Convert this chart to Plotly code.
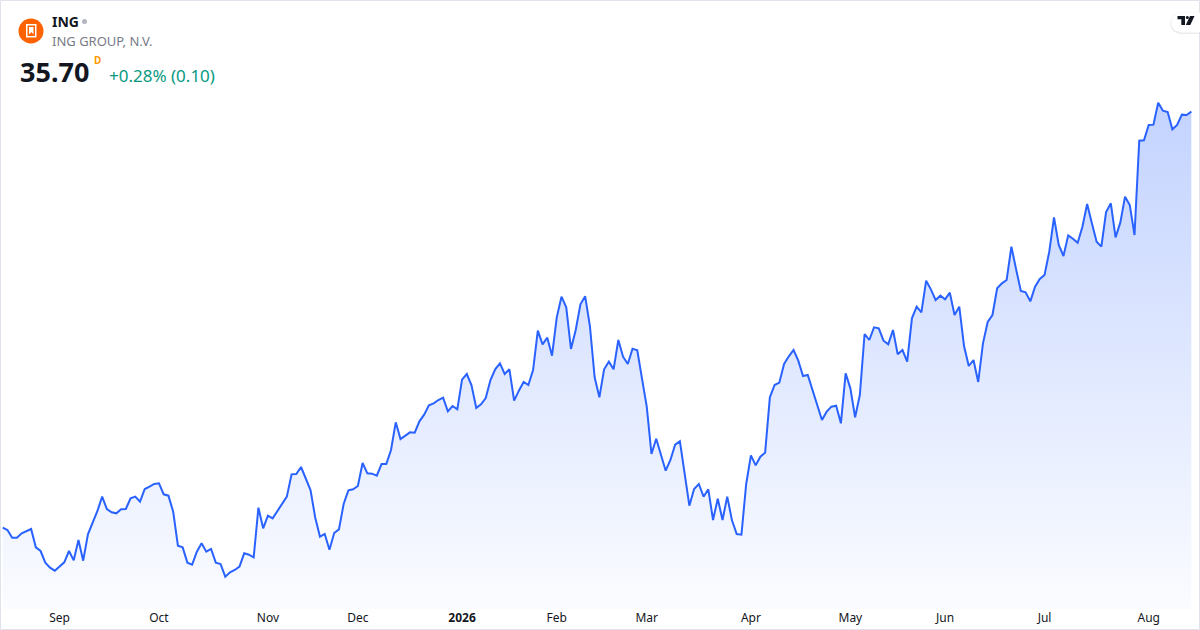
import pandas as pd
import plotly.graph_objects as go

W, H = 1200, 630

# NYSE closed days inside the window (chart skips them)
HOLIDAYS = ["2025-09-01", "2025-11-27", "2025-12-25", "2026-01-01", "2026-01-19",
            "2026-02-16", "2026-04-03", "2026-05-25", "2026-06-19", "2026-07-03"]
FIRST_DAY = "2025-08-14"
LAST_DAY = "2026-08-14"

# daily close
close = [
    23.22, 23.15, 22.92, 22.92, 23.05, 23.12, 23.18, 22.63, 22.52, 22.17,
    22.02, 21.93, 22.05, 22.18, 22.52, 22.24, 22.85, 22.23, 23.02, 23.38,
    23.72, 24.15, 23.78, 23.68, 23.65, 23.77, 23.78, 24.10, 24.15, 24.00,
    24.38, 24.45, 24.53, 24.55, 24.22, 24.18, 23.70, 22.68, 22.63, 22.17,
    22.11, 22.50, 22.75, 22.50, 22.58, 22.17, 22.13, 21.75, 21.88, 21.95,
    22.05, 22.45, 22.41, 22.33, 23.82, 23.20, 23.58, 23.50, 23.73, 23.93,
    24.15, 24.82, 24.83, 25.04, 24.69, 24.35, 23.52, 22.95, 23.03, 22.56,
    23.06, 23.17, 23.93, 24.34, 24.37, 24.47, 25.16, 24.85, 24.84, 24.78,
    25.13, 25.13, 25.55, 26.38, 25.88, 25.99, 26.08, 26.07, 26.41, 26.61,
    26.89, 26.95, 27.05, 27.12, 26.71, 26.87, 26.77, 27.66, 27.83, 27.49,
    26.81, 26.92, 27.11, 27.65, 27.97, 28.15, 27.83, 27.97, 27.03, 27.33,
    27.59, 27.50, 27.95, 29.13, 28.72, 28.92, 28.38, 29.53, 30.15, 29.83,
    28.58, 29.15, 29.92, 30.16, 29.27, 27.73, 27.13, 27.97, 28.20, 27.97,
    28.85, 28.35, 28.13, 28.59, 28.54, 27.69, 26.85, 25.43, 25.89, 25.41,
    24.93, 25.25, 25.71, 25.81, 24.80, 23.88, 24.38, 24.53, 24.15, 24.37,
    23.45, 24.09, 23.45, 24.15, 23.44, 23.03, 23.01, 24.53, 25.39, 25.09,
    25.35, 25.47, 27.13, 27.50, 27.57, 28.13, 28.36, 28.55, 28.23, 27.77,
    27.80, 27.33, 26.85, 26.45, 26.70, 26.85, 26.88, 26.35, 27.85, 27.40,
    26.53, 27.20, 29.03, 28.85, 29.23, 29.20, 28.83, 28.72, 29.15, 28.42,
    28.55, 28.20, 29.50, 29.85, 29.68, 30.63, 30.37, 30.05, 30.18, 30.07,
    30.27, 29.60, 29.85, 28.67, 28.07, 28.25, 27.59, 28.75, 29.39, 29.60,
    30.40, 30.55, 30.65, 31.65, 30.97, 30.32, 30.28, 30.01, 30.45, 30.68,
    30.80, 31.50, 32.53, 31.70, 31.37, 31.99, 31.89, 31.77, 32.25, 32.93,
    32.35, 31.80, 31.65, 32.69, 32.95, 31.93, 32.37, 33.15, 32.90, 32.00,
    34.83, 34.84, 35.30, 35.31, 35.97, 35.73, 35.69, 35.17, 35.30, 35.61,
    35.60, 35.70,
]

SYMBOL = "ING"
COMPANY = "ING GROUP, N.V."
LAST_TEXT = "35.70"
CHANGE_TEXT = "+0.28% (0.10)"

dates = pd.bdate_range(FIRST_DAY, LAST_DAY, freq="C", holidays=HOLIDAYS)
dates = dates[:len(close)]
xs = [d.strftime("%Y-%m-%d") for d in dates]

# month labels at the first trading day of each month
tickvals, ticktext = [], []
for i in range(1, len(dates)):
    if dates[i].month != dates[i - 1].month:
        tickvals.append(xs[i])
        if dates[i].month == 1:
            ticktext.append("<b>%d</b>" % dates[i].year)
        else:
            ticktext.append(dates[i].strftime("%b"))

BLUE = "#2962FF"
TEXT = "#131722"
PANE_BOTTOM = 609  # px
Y_LO, Y_HI = 20.78, 39.05


def px(x):
    return x / W


def py(y):
    return 1 - y / H


def poly(points):
    return "M " + " L ".join("%.5f,%.5f" % (px(a), py(b)) for a, b in points) + " Z"


fig = go.Figure()
fig.add_trace(go.Scatter(
    x=xs, y=close, mode="lines",
    line=dict(color=BLUE, width=2),
    fill="tozeroy",
    fillgradient=dict(type="vertical", start=Y_LO, stop=max(close),
                      colorscale=[[0, "rgba(41,98,255,0.02)"], [1, "rgba(41,98,255,0.28)"]]),
    hoverinfo="x+y", showlegend=False,
))

shapes = [
    # frame
    dict(type="rect", xref="paper", yref="paper", x0=px(0.5), x1=px(W - 0.5), y0=py(H - 0.5), y1=py(0.5),
         line=dict(color="#E0E3EB", width=1), fillcolor="rgba(0,0,0,0)"),
    # logo
    dict(type="circle", xref="paper", yref="paper", x0=px(18.5), x1=px(43.5), y0=py(43.5), y1=py(18.5),
         line=dict(width=0), fillcolor="#FF6200"),
    dict(type="rect", xref="paper", yref="paper", x0=px(26), x1=px(36.5), y0=py(37.5), y1=py(24),
         line=dict(width=0), fillcolor="#FFFFFF"),
    dict(type="rect", xref="paper", yref="paper", x0=px(27.5), x1=px(35), y0=py(36), y1=py(25.5),
         line=dict(width=0), fillcolor="#FF6200"),
    dict(type="path", xref="paper", yref="paper",
         path=poly([(29, 27), (33.5, 27), (33.5, 34.5), (31.5, 32), (29, 34.5)]),
         line=dict(width=0), fillcolor="#FFFFFF"),
    # status dot
    dict(type="circle", xref="paper", yref="paper", x0=px(82), x1=px(87), y0=py(24), y1=py(19),
         line=dict(width=0), fillcolor="#B2B5BE"),
    # TV badge shadow + pill
    dict(type="path", xref="paper", yref="paper",
         path=poly([(1180, 12.5), (1201, 12.5), (1201, 34), (1180, 34), (1174, 32), (1170.5, 27),
                    (1170.5, 20), (1174, 14.5)]),
         line=dict(width=0), fillcolor="rgba(0,0,0,0.07)"),
    dict(type="path", xref="paper", yref="paper",
         path=poly([(1181, 12.5), (1200, 12.5), (1200, 32.5), (1181, 32.5), (1175, 30.5), (1171.5, 26),
                    (1171.5, 19), (1175, 14.5)]),
         line=dict(width=0), fillcolor="#FFFFFF"),
    # TV mark
    dict(type="path", xref="paper", yref="paper",
         path=poly([(1177.5, 16), (1185, 16), (1185, 25), (1181.3, 25), (1181.3, 19.3), (1177.5, 19.3)]),
         line=dict(width=0), fillcolor="#131722"),
    dict(type="circle", xref="paper", yref="paper", x0=px(1185.8), x1=px(1188.9), y0=py(19.1), y1=py(16),
         line=dict(width=0), fillcolor="#131722"),
    dict(type="path", xref="paper", yref="paper",
         path=poly([(1190, 16), (1194.5, 16), (1190.3, 25), (1185.8, 25)]),
         line=dict(width=0), fillcolor="#131722"),
]

annotations = [
    dict(text="<b>%s</b>" % SYMBOL, x=px(50), y=py(21.5), font=dict(size=14, color=TEXT)),
    dict(text=COMPANY, x=px(50), y=py(41.5), font=dict(size=13, color="#787B86")),
    dict(text="<b>%s</b>" % LAST_TEXT, x=px(17.5), y=py(71), font=dict(size=27, color=TEXT)),
    dict(text="<b>D</b>", x=px(91.5), y=py(60.5), font=dict(size=10, color="#FF9800")),
    dict(text=CHANGE_TEXT, x=px(106.5), y=py(75), font=dict(size=17, color="#089981")),
]
for a in annotations:
    a.update(xref="paper", yref="paper", xanchor="left", yanchor="middle", showarrow=False)

fig.update_layout(
    width=W, height=H,
    margin=dict(l=0, r=0, t=0, b=0),
    paper_bgcolor="#FFFFFF", plot_bgcolor="rgba(0,0,0,0)",
    font=dict(family="Noto Sans", color=TEXT),
    shapes=shapes, annotations=annotations,
    xaxis=dict(type="category", domain=[0, 1], range=[-0.57, len(close) + 0.83],
               tickmode="array", tickvals=tickvals, ticktext=ticktext,
               showgrid=False, zeroline=False, showline=False, ticks="",
               tickfont=dict(size=12, color=TEXT)),
    yaxis=dict(domain=[py(PANE_BOTTOM), 1], range=[Y_LO, Y_HI], visible=False,
               showgrid=False, zeroline=False),
)

# page body has an 8px default margin; drop it so the figure sits at the window corner
fig.write_html("out.html", config={"displayModeBar": False},
               post_script="document.body.style.margin='0';")
